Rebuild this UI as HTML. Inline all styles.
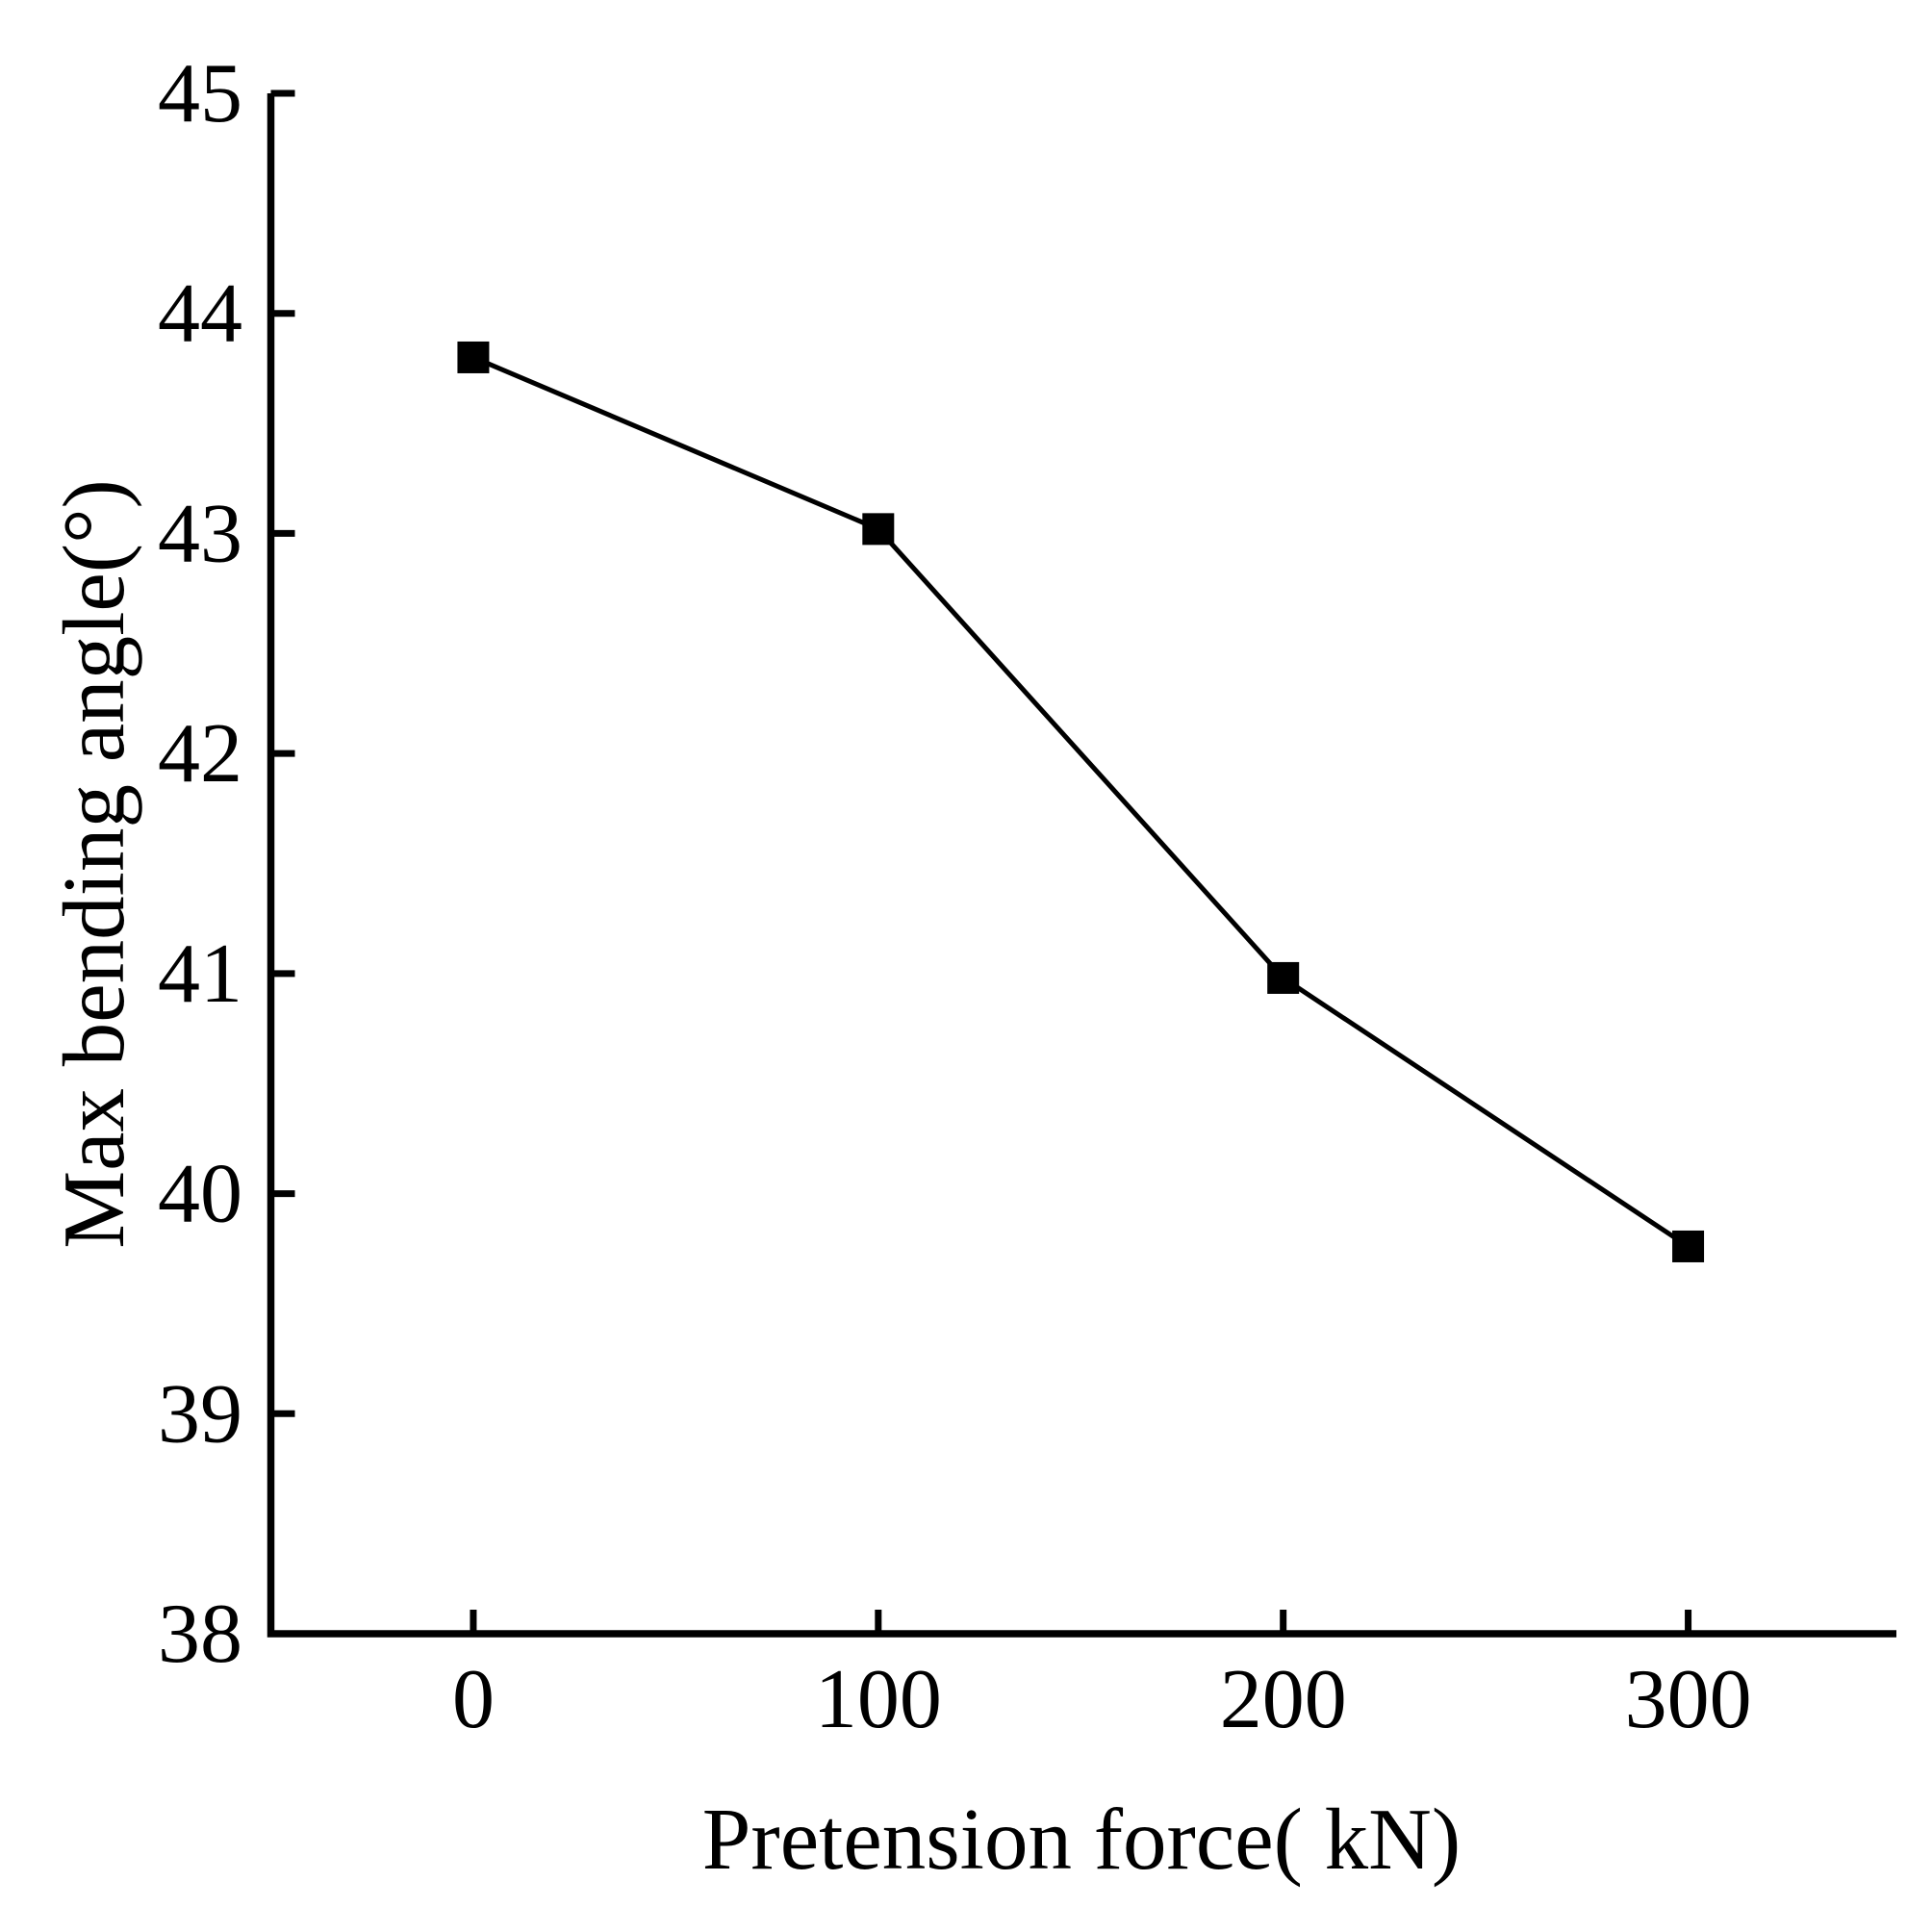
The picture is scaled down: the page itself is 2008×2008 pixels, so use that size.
<!DOCTYPE html>
<html><head><meta charset="utf-8"><style>
html,body{margin:0;padding:0;background:#fff;}
svg{display:block;}
text{font-family:"Liberation Serif",serif;fill:#000;}
</style></head><body>
<svg id="chart" width="2008" height="2008" viewBox="0 0 2008 2008" xmlns="http://www.w3.org/2000/svg">
<g id="axes"></g><g id="series"></g>
<text x="1124" y="1942" font-size="91" text-anchor="middle">Pretension force( kN)</text>
<text transform="translate(128,898) rotate(-90)" font-size="91" text-anchor="middle">Max bending angle(°)</text>
</svg>
<script>
const categories=[0,100,200,300];
const values=[43.8,43.02,40.98,39.76];
const xTicks=[0,100,200,300];
const yTicks=[38,39,40,41,42,43,44,45];
const NS="http://www.w3.org/2000/svg";
const X0=281.5,X1=1971,Y0=1698,Y1=97;
function sx(v){return X0+(v-(-50))/(400)*(1965-X0);}
function sy(v){return Y0-(v-38)/7*(Y0-Y1);}
function mk(tag,attrs,parent){const e=document.createElementNS(NS,tag);for(const k in attrs)e.setAttribute(k,attrs[k]);parent.appendChild(e);return e;}
const axes=document.getElementById('axes'),series=document.getElementById('series');
let a=mk('path',{d:`M${X0} ${Y1} V${Y0} H${X1}`,fill:'none',stroke:'#000','stroke-width':7.5},axes);


yTicks.forEach(t=>{
 const y=sy(t);
 let l=mk('line',{x1:X0,x2:X0+25,y1:y,y2:y,stroke:'#000','stroke-width':7},axes);
 
 
 let tx=mk('text',{x:252,y:y+29,'font-size':88,'text-anchor':'end'},axes);
 tx.textContent=t;
 
 
});
xTicks.forEach(t=>{
 const x=sx(t);
 let l=mk('line',{x1:x,x2:x,y1:Y0,y2:Y0-25,stroke:'#000','stroke-width':7},axes);
 
 
 let tx=mk('text',{x:x,y:1795,'font-size':88,'text-anchor':'middle'},axes);
 tx.textContent=t;
 
 
});
const pts=categories.map((c,i)=>[sx(c),sy(values[i])]);
let pl=mk('polyline',{points:pts.map(p=>p.join(',')).join(' '),fill:'none',stroke:'#000','stroke-width':5},series);


pts.forEach(p=>{
 let r=mk('rect',{x:p[0]-16.5,y:p[1]-16.5,width:33,height:33,fill:'#000'},series);
 
 
});
</script>
</body></html>
